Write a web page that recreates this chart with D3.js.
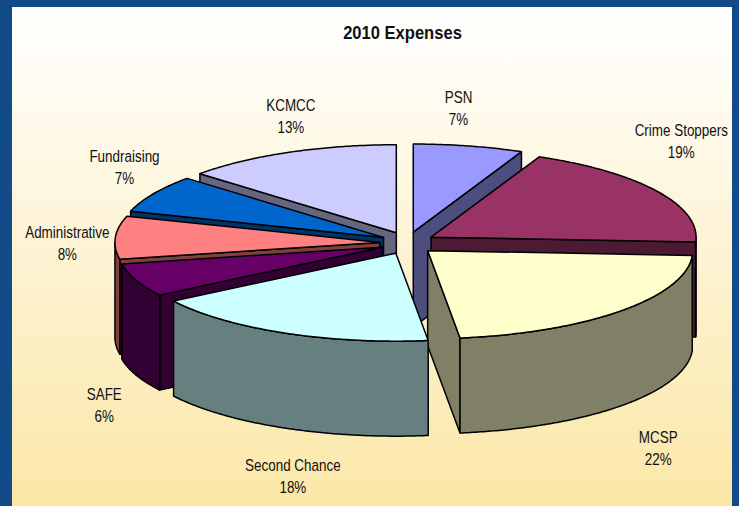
<html>

<script src="https://d3js.org/d3.v7.min.js"></script>

<style>
    html, body { margin: 0; padding: 0; background: #134a88; }
    svg { display: block; }
    text { font-family: "Liberation Sans", Arial, sans-serif; fill: #111; }
</style>

<svg width=739 height=506></svg>

<script>

    let names = ['PSN', 'Crime Stoppers', 'MCSP', 'Second Chance', 'SAFE', 'Administrative', 'Fundraising', 'KCMCC'];
    // percents, the labels show them rounded
    let percents = [6.7, 19.2, 22.2, 17.8, 6.1, 7.9, 6.9, 13.3];
    let topColors = ['#9999ff', '#993366', '#ffffcc', '#ccffff', '#660066', '#ff8080', '#0066cc', '#ccccff'];
    let wallColors = ['#4d4d80', '#4d1a33', '#808066', '#668080', '#330033', '#804040', '#003366', '#666680'];

    // label offset from the middle of each slice's rim
    let labelNudge = [[-10, -38], [24, -50], [37, 137], [9, 143], [-32, 125], [-48, 5], [-29, -27], [2, -36]];
    // back to front, so nearer slices cover the walls behind them
    let drawOrder = [7, 0, 6, 1, 5, 2, 4, 3];

    let svg = d3.select('svg'),
        width = +svg.attr('width'),
        height = +svg.attr('height');

    let cx = 407.5, cy = 243,
        rx = 265, ry = 88,
        explodeX = 27.6, explodeY = 11.2,
        depth = 95;

    let defs = svg.append('defs');
    let grad = defs.append('linearGradient')
        .attr('id', 'bg')
        .attr('x1', 0).attr('y1', 0)
        .attr('x2', 0).attr('y2', 1);
    grad.append('stop').attr('offset', '0%').attr('stop-color', '#ffffff');
    grad.append('stop').attr('offset', '100%').attr('stop-color', '#fbe7a7');

    svg.append('rect').attr('width', width).attr('height', height).attr('fill', '#134a88');
    svg.append('rect')
        .attr('x', 12).attr('y', 7)
        .attr('width', 720).attr('height', height - 7)
        .attr('fill', 'url(#bg)');

    svg.append('text')
        .attr('transform', 'translate(402.5,39) scale(0.92,1)')
        .attr('text-anchor', 'middle')
        .attr('font-size', 18)
        .attr('font-weight', 'bold')
        .text('2010 Expenses');

    let pie = d3.pie().sort(null);
    let slices = pie(percents);
    let line = d3.line();

    // point on the rim of a slice, angle is clockwise from north
    function rim(tip, a, drop) {
        return [tip[0] + rx * Math.sin(a), tip[1] - ry * Math.cos(a) + (drop || 0)];
    }

    function arcPoints(tip, a0, a1, drop) {
        let n = Math.max(2, Math.ceil((a1 - a0) / 0.01));
        return d3.range(n + 1).map(i => rim(tip, a0 + (a1 - a0) * i / n, drop));
    }

    function draw(d, color) {
        return pts => svgg.append('path')
            .attr('d', line(pts) + 'Z')
            .attr('fill', color)
            .attr('stroke', '#000')
            .attr('stroke-width', 1.5)
            .attr('stroke-linejoin', 'round');
    }

    let svgg = svg.append('g');

    drawOrder.forEach(i => {
        let d = slices[i],
            mid = (d.startAngle + d.endAngle) / 2,
            tip = [cx + explodeX * Math.sin(mid), cy - explodeY * Math.cos(mid)],
            drop = [tip[0], tip[1] + depth],
            wall = draw(d, wallColors[i]);

        // cut faces, only the ones turned towards the viewer
        if (Math.sin(d.endAngle) > 0.001) {
            let p = rim(tip, d.endAngle);
            wall([tip, p, [p[0], p[1] + depth], drop]);
        }
        if (Math.sin(d.startAngle) < -0.001) {
            let p = rim(tip, d.startAngle);
            wall([tip, p, [p[0], p[1] + depth], drop]);
        }

        // outer wall, front half of the rim only
        let a0 = Math.max(d.startAngle, Math.PI / 2),
            a1 = Math.min(d.endAngle, 3 * Math.PI / 2);
        if (a1 > a0) {
            wall(arcPoints(tip, a0, a1).concat(arcPoints(tip, a0, a1, depth).reverse()));
        }

        draw(d, topColors[i])([tip].concat(arcPoints(tip, d.startAngle, d.endAngle)));
    });

    let labels = svg.selectAll('.label')
        .data(slices)
      .enter()
        .append('g')
        .classed('label', true)
        .attr('transform', (d, i) => {
            let mid = (d.startAngle + d.endAngle) / 2,
                tip = [cx + explodeX * Math.sin(mid), cy - explodeY * Math.cos(mid)],
                p = rim(tip, mid);
            return 'translate(' + (p[0] + labelNudge[i][0]) + ',' + (p[1] + labelNudge[i][1]) + ') scale(0.84,1)';
        })
        .attr('text-anchor', 'middle')
        .attr('font-size', 16);

    labels.append('text').attr('y', -5).text((d, i) => names[i]);
    labels.append('text').attr('y', 17).text(d => Math.round(d.data) + '%');

</script>
</html>
